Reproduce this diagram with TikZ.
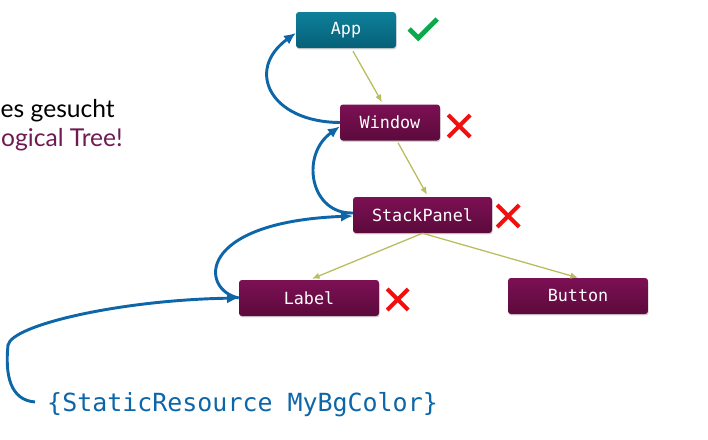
\documentclass[tikz,border=0pt]{standalone}
\usepackage{fontspec}
\newfontfamily\codefont{DejaVu Sans Mono}
\newfontfamily\slidefont{Lato}
\usepackage{tikz}
\usetikzlibrary{arrows.meta}
\usetikzlibrary{calc}
\usetikzlibrary{shadows}
\definecolor{treepurple}{RGB}{124,16,84}
\definecolor{treepurpledark}{RGB}{92,10,60}
\definecolor{appteal}{RGB}{14,128,154}
\definecolor{apptealdark}{RGB}{6,96,120}
\definecolor{lookupblue}{RGB}{12,102,168}
\definecolor{childolive}{RGB}{184,189,94}
\definecolor{okgreen}{RGB}{12,168,76}
\definecolor{failred}{RGB}{240,16,16}
\definecolor{notepurple}{RGB}{112,26,82}

\tikzset{
	treebox/.style={rounded corners=2.5pt, minimum height=10.8mm, text=white,
		font=\codefont\fontsize{14.3}{16}\selectfont,
		top color=treepurple, bottom color=treepurpledark,
		drop shadow={shadow xshift=0.5pt, shadow yshift=-1.2pt, opacity=0.35}},
	rootbox/.style={treebox, top color=appteal, bottom color=apptealdark},
	childarrow/.style={->, draw=childolive, line width=1.1pt},
	lookup/.style={-{Latex[length=10pt,width=9pt]}, draw=lookupblue, line width=2.5pt},
	failmark/.style={draw=failred, line width=3.4pt},
	okmark/.style={draw=okgreen, line width=4.2pt},
}

\begin{document}
\begin{tikzpicture}[>={Latex[length=6.5pt,width=5.5pt]}, x=0.3mm, y=-0.3mm]
		\useasboundingbox (0,0) rectangle (708,439);
		% the tree
		\node (App) [rootbox, minimum width=30mm] at (346,30) {App};
		\node (Window) [treebox, minimum width=30mm] at (390,122.5) {Window};
		\node (StackPanel) [treebox, minimum width=41.7mm] at (422.5,215) {StackPanel};
		\node (Label) [treebox, minimum width=42mm] at (309,298) {Label};
		\node (Button) [treebox, minimum width=42mm] at (578,296) {Button};
		\draw[childarrow] ($(App.south)+(7,3)$) -- ($(Window.north)+(-8,-2)$);
		\draw[childarrow] ($(Window.south)+(8,2)$) -- ($(StackPanel.north)+(4.5,-2)$);
		\draw[childarrow] (StackPanel.south) -- ($(Label.north)+(3,-1)$);
		\draw[childarrow] (StackPanel.south) -- (Button.north);
		% text
		\node (NoteA) [anchor=base east, inner sep=0pt, font=\slidefont\fontsize{21}{24}\selectfont] at (115,117) {es gesucht};
		\node (NoteB) [anchor=base west, inner sep=0pt, text=notepurple, font=\slidefont\fontsize{21}{24}\selectfont] at (1,146) {ogical Tree!};
		\node (Resource) [anchor=base west, inner sep=0pt, text=lookupblue, font=\codefont\fontsize{21.3}{24}\selectfont] at (47,411) {\{StaticResource MyBgColor\}};
		% lookup path
		\draw[lookup] ($(Resource.base west)+(-12,-9)$) .. controls (10,400) and (5,375) .. (8,345)
			.. controls (12,325) and (120,300) .. (Label.west);
		\draw[lookup] (Label.west) .. controls (200,290) and (195,222) .. ($(StackPanel.west)+(0,1)$);
		\draw[lookup] ($(StackPanel.west)+(0,-2)$) .. controls (310,214) and (300,155) .. ($(Window.west)+(0,4)$);
		\draw[lookup] (Window.west) .. controls (270,122) and (245,70) .. ($(App.west)+(0,3)$);
		% marks
		\draw[okmark] ($(App.east)+(13,-1)$) -- ($(App.east)+(22,8)$) -- ($(App.east)+(41,-11)$);
		\draw[failmark] ($(Window.east)+(8,-7.5)$) -- ($(Window.east)+(30,14.5)$)
			($(Window.east)+(8,14.5)$) -- ($(Window.east)+(30,-7.5)$);
		\draw[failmark] ($(StackPanel.east)+(5,-10)$) -- ($(StackPanel.east)+(27,12)$)
			($(StackPanel.east)+(5,12)$) -- ($(StackPanel.east)+(27,-10)$);
		\draw[failmark] ($(Label.east)+(8,-9)$) -- ($(Label.east)+(29,12)$)
			($(Label.east)+(8,12)$) -- ($(Label.east)+(29,-9)$);
	\end{tikzpicture}
\end{document}
